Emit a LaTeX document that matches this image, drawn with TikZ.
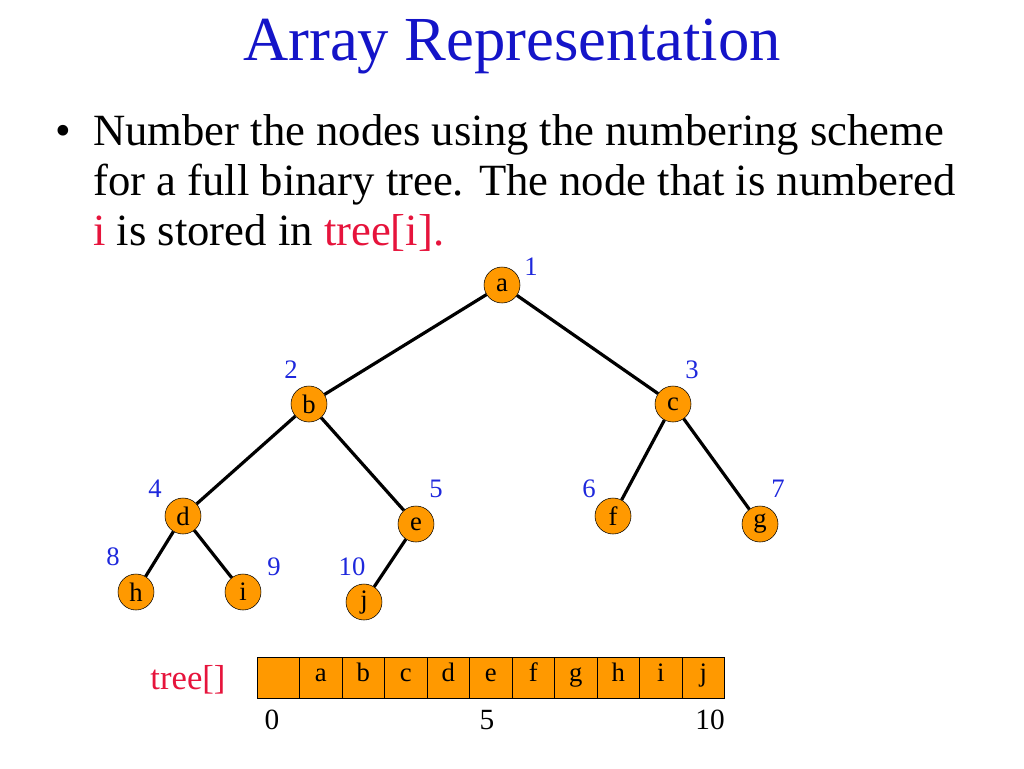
\documentclass[tikz,border=0pt]{standalone}
\usepackage{fontspec}
\setmainfont{Liberation Serif}
\usetikzlibrary{positioning}
\definecolor{titlecolor}{RGB}{20, 20, 200}
\definecolor{numcolor}{RGB}{30, 40, 220}
\definecolor{nodecolor}{RGB}{255, 153, 0}
\definecolor{hilite}{RGB}{230, 20, 60}

\begin{document}
\begin{tikzpicture}[
    x=0.75pt, y=-0.75pt,
    tnode/.style={circle, draw, fill=nodecolor, minimum size=27pt, inner sep=0pt, font=\fontsize{20}{20}\selectfont},
    num/.style={text=numcolor, font=\fontsize{20}{20}\selectfont},
    cell/.style={draw, fill=nodecolor, minimum width=31.9pt, minimum height=31pt, inner sep=0pt, text height=1.5ex, text depth=0.25ex, font=\fontsize{20}{20}\selectfont},
    line/.style={anchor=base west, inner sep=0pt, font=\fontsize{33.5}{33.5}\selectfont},
    edge/.style={line width=2.4pt}
]
    \useasboundingbox (0,0) rectangle (1024,768);

    % Title and text
    \node[text=titlecolor, font=\fontsize{47}{47}\selectfont] (title) at (512,47) {Array Representation};
    \node[line] (bullet) at (55,145) {\textbullet};
    \node[line] (line1) at (93,145) {Number the nodes using the numbering scheme};
    \node[line] (line2) at (93,195) {for a full binary tree. The node that is numbered};
    \node[line] (line3) at (93,245) {\textcolor{hilite}{i} is stored in \textcolor{hilite}{tree[i].}};

    % Tree nodes
    \node[tnode] (a) at (502,285) {a};
    \node[tnode] (b) at (309,404) {b};
    \node[tnode] (c) at (673,404) {c};
    \node[tnode] (d) at (183,516) {d};
    \node[tnode] (e) at (416,524) {e};
    \node[tnode] (f) at (613,516) {f};
    \node[tnode] (g) at (760,524) {g};
    \node[tnode] (h) at (136,592) {h};
    \node[tnode] (i) at (243,592) {i};
    \node[tnode] (j) at (364,602) {j};

    % Edges
    \draw[edge] (a) -- (b);
    \draw[edge] (a) -- (c);
    \draw[edge] (b) -- (d);
    \draw[edge] (b) -- (e);
    \draw[edge] (c) -- (f);
    \draw[edge] (c) -- (g);
    \draw[edge] (d) -- (h);
    \draw[edge] (d) -- (i);
    \draw[edge] (e) -- (j);

    % Numbers
    \node[num] (n1) at (531,267) {1};
    \node[num] (n2) at (291,370) {2};
    \node[num] (n3) at (692,370) {3};
    \node[num] (n4) at (155,489) {4};
    \node[num] (n5) at (436,489) {5};
    \node[num] (n6) at (589,489) {6};
    \node[num] (n7) at (778,489) {7};
    \node[num] (n8) at (113,557) {8};
    \node[num] (n9) at (274,567) {9};
    \node[num] (n10) at (352,567) {10};

    % Array
    \foreach \t [count=\k from 0] in {{},a,b,c,d,e,f,g,h,i,j} {
        \node[cell] (t\k) at (278.3+42.5*\k,678) {\t};
    }
    \node[text=hilite, font=\fontsize{26}{26}\selectfont] (tlabel) at (188,680) {tree[]};
    \node[font=\fontsize{22}{22}\selectfont] (i0) at (272,720) {0};
    \node[font=\fontsize{22}{22}\selectfont] (i5) at (487,720) {5};
    \node[font=\fontsize{22}{22}\selectfont] (i10) at (710,720) {10};
\end{tikzpicture}
\end{document}
